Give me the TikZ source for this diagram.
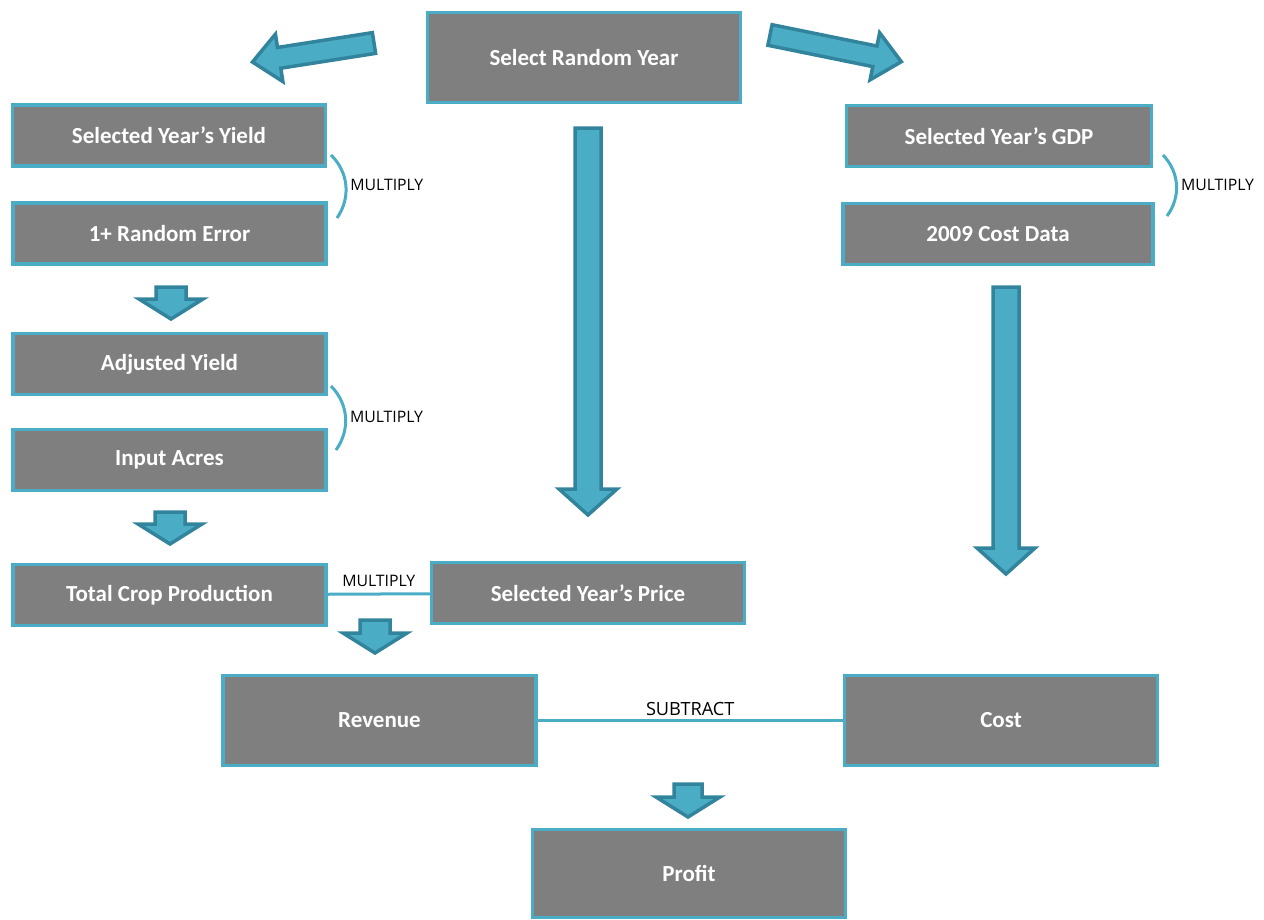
\documentclass[tikz,border=0pt]{standalone}
\usepackage{fontspec}
\setmainfont{Carlito}
\newfontfamily\opfont{Open Sans}
\usepackage{tikz}
\usetikzlibrary{positioning}

\definecolor{boxgray}{HTML}{7F7F7F}
\definecolor{aqua}{HTML}{4BACC6}
\definecolor{darkaqua}{HTML}{31849B}

% start, angle, length, shaft half width, head half width, head length
\newcommand{\blockarrow}[6]{%
  \begin{scope}[shift={(#1)},rotate=#2]
    \draw[bigarrow] (0,-#4) -- (#3-#6,-#4) -- (#3-#6,-#5) -- (#3,0)
      -- (#3-#6,#5) -- (#3-#6,#4) -- (0,#4) -- cycle;
  \end{scope}}

\begin{document}
\begin{tikzpicture}[x=1pt,y=-1pt,
  stage/.style={draw=aqua,fill=boxgray,line width=3.5pt,text=white,
    font=\fontsize{23}{27}\selectfont\bfseries,
    minimum width=313pt,minimum height=61pt,inner sep=0pt},
  tall/.style={stage,minimum height=90pt},
  bigarrow/.style={draw=darkaqua,fill=aqua,line width=3.5pt,line join=miter},
  link/.style={draw=aqua,line width=3pt},
  op/.style={font=\opfont\fontsize{15.8}{18}\selectfont,text=black,inner sep=1pt},
  bigop/.style={op,font=\opfont\fontsize{18.2}{21}\selectfont}]
  \useasboundingbox (0,0) rectangle (1264,919);

  \node[tall] (year) at (584,57.5) {Select Random Year};
  \node[stage] (yield) at (169,135.5) {Selected Year's Yield};
  \node[stage] (error) at (169.5,233.5) {1+ Random Error};
  \node[stage] (adjusted) at (169.5,364) {Adjusted Yield};
  \node[stage] (acres) at (169.5,460) {Input Acres};
  \node[stage] (crop) at (169.5,595) {Total Crop Production};
  \node[stage] (price) at (588,593) {Selected Year's Price};
  \node[stage,minimum width=305pt] (gdp) at (999,136) {Selected Year's GDP};
  \node[stage,minimum width=310pt] (costdata) at (998,234) {2009 Cost Data};
  \node[tall] (revenue) at (379.5,720.5) {Revenue};
  \node[tall] (cost) at (1001,720.5) {Cost};
  \node[tall,minimum height=88pt] (profit) at (689,873.5) {Profit};

  \coordinate (b1) at (331,155);  \coordinate (e1) at (337,218);
  \coordinate (b2) at (331,386);  \coordinate (e2) at (336,450);
  \coordinate (b3) at (1163,155); \coordinate (e3) at (1167,216);

  \path[link]
    (b1) edge[bend left=40] node[op,right=2pt] (mul1) {MULTIPLY} (e1)
    (b2) edge[bend left=40] node[op,right=2pt] (mul2) {MULTIPLY} (e2)
    (b3) edge[bend left=40] node[op,right=2pt] (mul3) {MULTIPLY} (e3)
    (crop) edge node[op,above=5pt] (mul4) {MULTIPLY} (price)
    (revenue) edge node[bigop,above=2pt] (sub) {SUBTRACT} (cost);

  \blockarrow{374,43}{188.9}{123}{10.5}{24}{27}
  \blockarrow{770,35}{-11.5}{134}{10.5}{24}{27}
  \blockarrow{588,128}{-90}{387}{13}{29}{26}
  \blockarrow{1006,287}{-90}{287}{13}{29}{26}
  \blockarrow{171,287}{-90}{32}{15}{32}{20}
  \blockarrow{170,512}{-90}{32}{15}{32}{20}
  \blockarrow{375,620}{-90}{33}{15}{32}{20}
  \blockarrow{688,784}{-90}{33}{14}{32}{20}
\end{tikzpicture}
\end{document}
